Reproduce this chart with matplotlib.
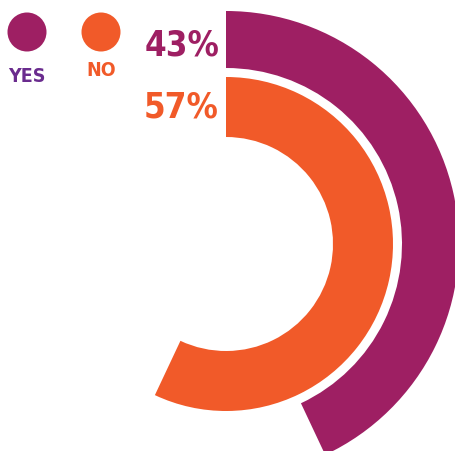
import matplotlib
matplotlib.use('Agg')
import matplotlib.pyplot as plt
from matplotlib.patches import Wedge, Circle

labels = ['YES', 'NO']
values = [43, 57]
colors = ['#9E1F63', '#F15A29']
label_colors = ['#6A2C8E', '#F15A29']

# ring geometry in pixels (center, outer radius, ring width)
cx, cy = 226, 245
rings = [(233, 57), (167, 60)]

fig = plt.figure(figsize=(4.55, 4.52), dpi=100)
ax = fig.add_axes([0, 0, 1, 1])
ax.set_xlim(0, 455)
ax.set_ylim(452, 0)
ax.axis('off')

font = dict(family='DejaVu Sans', fontstretch='condensed', fontweight='bold')

for val, col, (r, w) in zip(values, colors, rings):
    # clockwise from 12 o'clock; y axis is inverted so angles run clockwise
    start = -90
    end = -90 + 360 * val / 100
    ax.add_patch(Wedge((cx, cy), r, start, end, width=w, color=col, lw=0))

# percentage labels to the left of each ring start
ax.text(219, 45, '%d%%' % values[0], color=colors[0], fontsize=25,
        ha='right', va='center', **font)
ax.text(219, 108, '%d%%' % values[1], color=colors[1], fontsize=25,
        ha='right', va='center', **font)

# legend dots
for x, col, lab, lc, ty in zip([27, 101], colors, labels, label_colors, [76, 70]):
    ax.add_patch(Circle((x, 33), 19.5, color=col, lw=0))
    ax.text(x, ty, lab, color=lc, fontsize=14, ha='center', va='center', **font)

plt.savefig('out.png', dpi=100)
